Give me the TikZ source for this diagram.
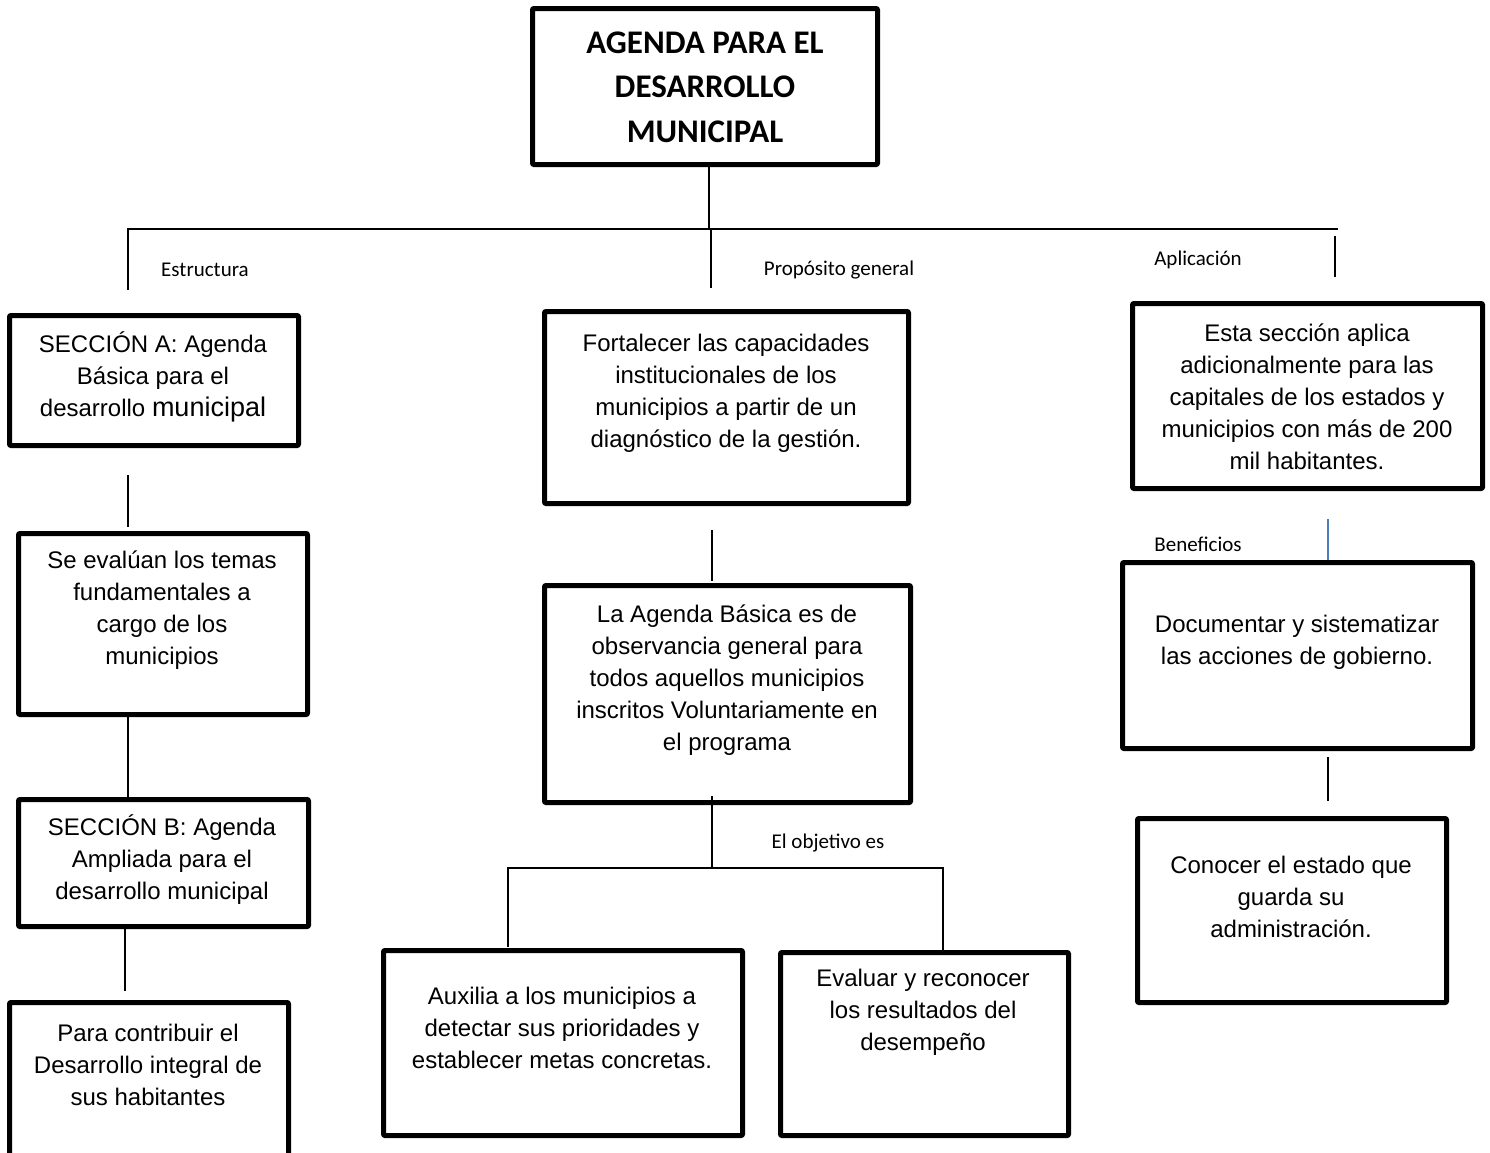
\documentclass[tikz,border=0pt]{standalone}
\usepackage{fontspec}
\setmainfont{Liberation Sans}
\newfontfamily\labelfont{Carlito}
\definecolor{linkblue}{HTML}{4A7EBB}
\begin{document}
\begin{tikzpicture}[x=1pt,y=-1pt,
  box/.style={draw=black,line width=5pt,line join=round,rounded corners=1pt,anchor=north west,inner sep=0pt},
  boxtext/.style={align=center,font=\fontsize{24}{32}\selectfont,inner sep=0pt},
  tag/.style={font=\labelfont\fontsize{21}{24}\selectfont,inner sep=0pt},
  link/.style={draw=black,line width=1.6pt},
  bluelink/.style={draw=linkblue,line width=1.4pt}]
\useasboundingbox (0,0) rectangle (1490,1152);

% boxes: top-left corner, width, height
\newcommand\mkbox[5]{\node[box,minimum width=#4,minimum height=#5] (#1) at (#2,#3) {};}
\mkbox{title}{530}{6}{345}{156}
\mkbox{secA}{7}{313}{289}{130}
\mkbox{evalua}{16}{531}{289}{181}
\mkbox{secB}{16}{797}{290}{127}
\mkbox{contrib}{7}{1000}{279}{170}
\mkbox{fortal}{542}{309}{364}{192}
\mkbox{basica}{542}{583}{366}{217}
\mkbox{auxilia}{381}{948}{359}{185}
\mkbox{evaluar}{778}{950}{288}{183}
\mkbox{aplica}{1130}{301}{350}{185}
\mkbox{docum}{1120}{560}{350}{186}
\mkbox{conocer}{1135}{816}{309}{184}

% texts
\node[align=center,font=\labelfont\bfseries\fontsize{33}{44.5}\selectfont,inner sep=0pt] (title-t) at (705,87) {AGENDA PARA EL\\DESARROLLO\\MUNICIPAL};
\node[boxtext] (secA-t) at (153,377) {SECCIÓN A: Agenda\\Básica para el\\desarrollo {\fontsize{27}{32}\selectfont municipal}};
\node[boxtext] (evalua-t) at (162,610) {Se evalúan los temas\\fundamentales a\\cargo de los\\municipios};
\node[boxtext] (secB-t) at (162,860) {SECCIÓN B: Agenda\\Ampliada para el\\desarrollo municipal};
\node[boxtext] (contrib-t) at (148,1065) {Para contribuir el\\Desarrollo integral de\\sus habitantes};
\node[boxtext] (fortal-t) at (726,393) {Fortalecer las capacidades\\institucionales de los\\municipios a partir de un\\diagnóstico de la gestión.};
\node[boxtext] (basica-t) at (727,680) {La Agenda Básica es de\\observancia general para\\todos aquellos municipios\\inscritos Voluntariamente en\\el programa};
\node[boxtext] (auxilia-t) at (562,1028) {Auxilia a los municipios a\\detectar sus prioridades y\\establecer metas concretas.};
\node[boxtext] (evaluar-t) at (923,1012) {Evaluar y reconocer\\los resultados del\\desempeño};
\node[boxtext] (aplica-t) at (1307,397) {Esta sección aplica\\adicionalmente para las\\capitales de los estados y\\municipios con más de 200\\mil habitantes.};
\node[boxtext] (docum-t) at (1297,642) {Documentar y sistematizar\\las acciones de gobierno.};
\node[boxtext] (conocer-t) at (1291,897) {Conocer el estado que\\guarda su\\administración.};

% branch labels
\node[tag] (lbl-estr) at (205,270) {Estructura};
\node[tag] (lbl-prop) at (839,270) {Propósito general};
\node[tag] (lbl-apli) at (1198,260) {Aplicación};
\node[tag] (lbl-bene) at (1198,544) {Beneficios};
\node[tag] (lbl-obj) at (828,843) {El objetivo es};

% connector end points
\coordinate (hubT) at (709,229);
\coordinate (barL) at (128,229);
\coordinate (barR) at (1338,229);
\coordinate (dropL) at (128,290);
\coordinate (dropM0) at (711,229);
\coordinate (dropM) at (711,288);
\coordinate (dropR0) at (1335,236);
\coordinate (dropR) at (1335,277);
\coordinate (l1a) at (128,475); \coordinate (l1b) at (128,527);
\coordinate (l2a) at (128,714); \coordinate (l2b) at (128,799);
\coordinate (l3a) at (125,926); \coordinate (l3b) at (125,991);
\coordinate (m1a) at (712,530); \coordinate (m1b) at (712,581);
\coordinate (m2a) at (712,796); \coordinate (m2b) at (712,868);
\coordinate (forkL) at (508,868); \coordinate (forkR) at (943,868);
\coordinate (forkLd) at (508,947); \coordinate (forkRd) at (943,950);
\coordinate (r1a) at (1328,519); \coordinate (r1b) at (1328,560);
\coordinate (r2a) at (1328,757); \coordinate (r2b) at (1328,801);

% connectors
\draw[link] (title.south -| hubT) -- (hubT);
\draw[link] (dropL) -- (barL) -- (barR);
\draw[link] (dropM0) -- (dropM);
\draw[link] (dropR0) -- (dropR);
\draw[link] (l1a) -- (l1b);
\draw[link] (l2a) -- (l2b);
\draw[link] (l3a) -- (l3b);
\draw[link] (m1a) -- (m1b);
\draw[link] (m2a) -- (m2b);
\draw[link] (forkLd) -- (forkL) -- (forkR) -- (forkRd);
\draw[bluelink] (r1a) -- (r1b);
\draw[link] (r2a) -- (r2b);
\end{tikzpicture}
\end{document}
